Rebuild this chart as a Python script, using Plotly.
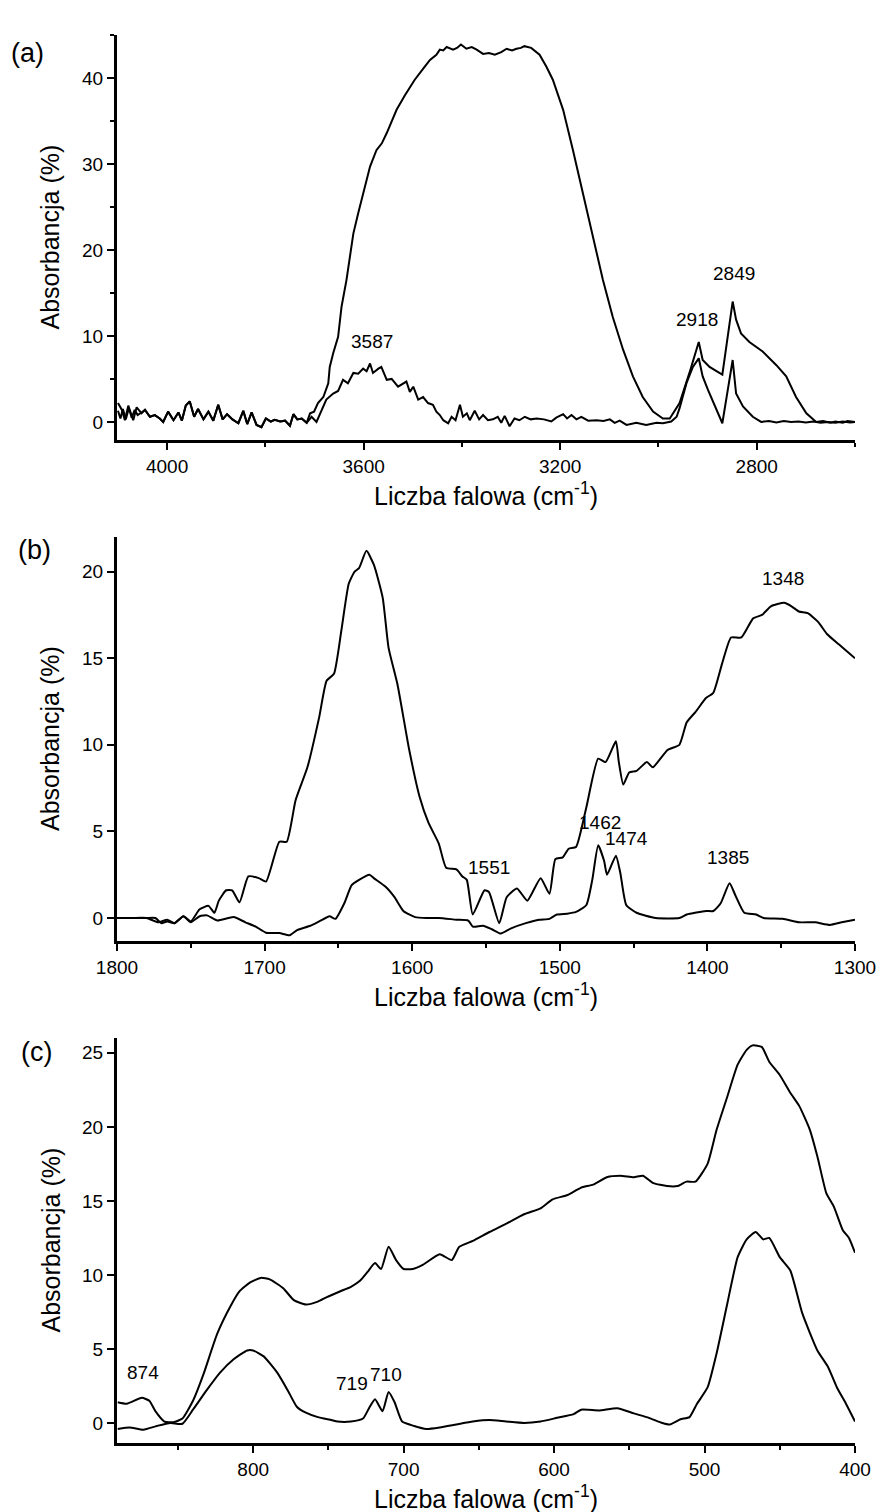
import plotly.graph_objects as go

FONT = "Liberation Sans, Arial, sans-serif"

# ---------------- (a) 4100-2600 cm-1 ----------------
wn_a_upper = [4100, 4092, 4086, 4079, 4069, 4062, 4052, 4045, 4035, 4025, 4015, 4008, 3998, 3987,
              3977, 3970, 3962, 3954, 3945, 3937, 3926, 3916, 3906, 3896, 3887, 3878, 3867, 3855,
              3845, 3837, 3828, 3818, 3808, 3799, 3789, 3781, 3770, 3760, 3750, 3743, 3735, 3726,
              3716, 3709, 3701, 3693, 3682, 3672, 3669, 3662, 3652, 3645, 3635, 3628, 3621, 3611,
              3601, 3587, 3574, 3563, 3553, 3543, 3533, 3516, 3496, 3476, 3465, 3452, 3445, 3438,
              3431, 3418, 3410, 3402, 3391, 3380, 3370, 3357, 3345, 3333, 3320, 3309, 3298, 3289,
              3280, 3273, 3259, 3242, 3228, 3215, 3194, 3174, 3154, 3133, 3113, 3093, 3072, 3052,
              3032, 3011, 2991, 2977, 2957, 2937, 2918, 2910, 2896, 2876, 2870, 2849, 2842, 2832,
              2815, 2788, 2760, 2740, 2720, 2699, 2679, 2665, 2650, 2640, 2625, 2615, 2600]
ab_a_upper = [2.2, 1.4, 0.2, 1.9, 0.2, 1.7, 1.0, 1.4, 0.6, 0.8, 0.4, 0.0, 1.2, 0.2,
              1.1, 0.15, 1.9, 2.4, 0.6, 1.5, 0.3, 1.2, 0.15, 2.0, 0.3, 0.9, 0.3, -0.15,
              1.3, -0.25, 1.1, -0.35, -0.6, 0.4, 0.05, 0.25, 0.05, 0.15, -0.45, 0.9, 0.3, 0.4,
              -0.1, 1.0, 1.2, 2.2, 2.9, 4.5, 6.4, 8.0, 9.9, 13.4, 16.5, 19.2, 21.9, 24.3,
              26.6, 29.7, 31.6, 32.4, 33.6, 35.0, 36.3, 38.0, 39.8, 41.3, 42.1, 42.7, 43.3, 43.2,
              43.6, 43.3, 43.5, 43.9, 43.4, 43.6, 43.3, 42.8, 42.9, 42.7, 43.0, 43.4, 43.2, 43.4,
              43.5, 43.7, 43.5, 42.7, 41.3, 39.8, 36.3, 31.6, 26.6, 21.2, 16.5, 12.2, 8.4, 5.3,
              2.9, 1.2, 0.4, 0.4, 2.2, 5.7, 9.3, 7.2, 6.4, 5.7, 5.5, 14.0, 11.9, 10.3,
              9.3, 8.2, 6.6, 5.3, 2.9, 1.0, 0.0, 0.1, -0.1, 0.05, -0.1, 0.1, 0.0]

wn_a_lower = [4100, 4095, 4090, 4084, 4078, 4072, 4066, 4060, 4052, 4045, 4035, 4025, 4015, 4008,
              3998, 3987, 3977, 3970, 3962, 3954, 3945, 3937, 3926, 3916, 3906, 3896, 3887, 3878,
              3867, 3855, 3845, 3837, 3828, 3818, 3808, 3799, 3789, 3781, 3770, 3760, 3750, 3743,
              3735, 3726, 3716, 3706, 3696, 3686, 3676, 3662, 3652, 3642, 3632, 3621, 3611, 3601,
              3594, 3587, 3581, 3570, 3564, 3553, 3543, 3530, 3513, 3506, 3499, 3489, 3479, 3469,
              3459, 3452, 3445, 3438, 3428, 3421, 3413, 3404, 3398, 3390, 3384, 3374, 3365, 3357,
              3347, 3337, 3327, 3320, 3313, 3303, 3293, 3283, 3272, 3260, 3248, 3233, 3218, 3208,
              3194, 3186, 3177, 3167, 3157, 3143, 3126, 3112, 3099, 3089, 3079, 3065, 3045, 3025,
              3004, 2991, 2974, 2963, 2957, 2943, 2930, 2918, 2910, 2899, 2886, 2870, 2859, 2849,
              2842, 2828, 2808, 2791, 2775, 2760, 2745, 2730, 2715, 2700, 2685, 2670, 2655, 2640,
              2625, 2610, 2600]
ab_a_lower = [1.3, 0.4, 1.5, 0.3, 1.6, 0.5, 1.4, 0.8, 1.1, 1.4, 0.6, 0.8, 0.4, 0.0,
              1.2, 0.2, 1.1, 0.15, 1.9, 2.4, 0.6, 1.5, 0.3, 1.2, 0.15, 2.0, 0.3, 0.9,
              0.3, -0.15, 1.3, -0.25, 1.1, -0.35, -0.6, 0.4, 0.05, 0.25, 0.05, 0.15, -0.45, 0.9,
              0.3, 0.4, -0.1, 0.6, 0.0, 1.4, 2.6, 3.3, 3.6, 4.9, 4.5, 5.7, 5.6, 6.2,
              5.9, 6.8, 5.7, 6.2, 6.4, 4.9, 5.0, 4.1, 4.7, 3.5, 4.1, 2.6, 2.9, 2.2,
              2.0, 1.2, 0.8, 0.2, -0.15, 0.6, 0.2, 2.0, 0.6, 1.0, 0.2, 1.3, 0.3, 0.8,
              0.2, 0.3, 0.6, -0.1, 0.7, -0.5, 0.4, 0.2, 0.6, 0.3, 0.4, 0.3, 0.05, 0.5,
              0.9, 0.4, 0.8, 0.3, 0.6, 0.15, 0.2, 0.1, 0.3, -0.1, 0.15, -0.35, -0.1, -0.35,
              -0.1, -0.15, 0.05, 0.6, 1.6, 4.5, 6.4, 7.4, 5.3, 3.7, 2.0, -0.15, 3.7, 7.2,
              3.3, 1.8, 0.6, 0.0, 0.1, -0.05, 0.1, 0.0, 0.05, -0.05, 0.05, -0.1, 0.0, -0.1,
              0.05, -0.05, 0.0]

# ---------------- (b) 1800-1300 cm-1 ----------------
wn_b_upper = [1800, 1790, 1780, 1774, 1770, 1766, 1761, 1755, 1750, 1744, 1738, 1734, 1731, 1726,
              1722, 1717, 1711, 1704, 1699, 1690, 1685, 1679, 1671, 1663, 1658, 1653, 1648, 1643,
              1639, 1636, 1631, 1626, 1620, 1616, 1610, 1602, 1595, 1589, 1582, 1577, 1570, 1566,
              1563, 1559, 1551, 1548, 1541, 1536, 1529, 1522, 1513, 1507, 1503, 1498, 1494, 1489,
              1482, 1474, 1469, 1462, 1460, 1457, 1453, 1448, 1441, 1437, 1427, 1419, 1414, 1408,
              1401, 1396, 1390, 1384, 1377, 1369, 1363, 1357, 1348, 1343, 1338, 1332, 1325, 1319,
              1311, 1300]
ab_b_upper = [0.0, 0.0, 0.0, 0.0, -0.3, -0.2, -0.3, 0.1, -0.2, 0.5, 0.7, 0.3, 1.0, 1.6,
              1.6, 0.9, 2.4, 2.3, 2.1, 4.4, 4.4, 6.8, 8.7, 11.6, 13.7, 14.1, 16.6, 19.3,
              20.0, 20.2, 21.2, 20.4, 18.5, 15.6, 13.5, 9.7, 7.0, 5.5, 4.3, 2.9, 2.8, 2.4,
              2.2, 0.2, 1.6, 1.5, -0.3, 1.2, 1.7, 1.0, 2.3, 1.4, 3.4, 3.5, 4.0, 4.1,
              6.4, 9.2, 9.0, 10.2, 9.0, 7.7, 8.4, 8.5, 9.0, 8.7, 9.7, 10.0, 11.3, 11.9,
              12.7, 13.0, 14.7, 16.2, 16.2, 17.3, 17.5, 18.0, 18.2, 18.0, 17.7, 17.6, 17.1, 16.4,
              15.8, 15.0]

wn_b_lower = [1800, 1790, 1780, 1772, 1766, 1761, 1755, 1750, 1744, 1739, 1732, 1721, 1713, 1706,
              1699, 1690, 1683, 1678, 1669, 1663, 1656, 1652, 1646, 1641, 1636, 1629, 1626, 1618,
              1612, 1606, 1598, 1590, 1582, 1570, 1562, 1559, 1552, 1546, 1540, 1533, 1523, 1514,
              1507, 1502, 1495, 1489, 1482, 1478, 1474, 1470, 1468, 1462, 1459, 1455, 1448, 1435,
              1419, 1414, 1401, 1396, 1391, 1385, 1381, 1375, 1367, 1362, 1349, 1338, 1327, 1317,
              1309, 1300]
ab_b_lower = [0.0, 0.0, 0.0, -0.25, -0.1, -0.3, 0.1, -0.25, 0.1, 0.15, -0.15, 0.05, -0.25, -0.5,
              -0.85, -0.87, -1.0, -0.7, -0.45, -0.2, 0.1, -0.05, 0.85, 1.9, 2.2, 2.5, 2.3, 1.8,
              1.2, 0.4, 0.05, 0.0, 0.0, -0.1, -0.15, -0.5, -0.45, -0.65, -0.9, -0.6, -0.3, -0.1,
              -0.05, 0.2, 0.25, 0.35, 0.75, 2.2, 4.2, 3.3, 2.5, 3.6, 2.6, 0.75, 0.3, 0.0,
              0.0, 0.2, 0.4, 0.4, 0.85, 2.0, 1.3, 0.3, 0.2, 0.0, -0.05, -0.25, -0.25, -0.4,
              -0.25, -0.1]

# ---------------- (c) 890-400 cm-1 ----------------
wn_c_upper = [890, 884, 874, 869, 865, 859, 853, 847, 840, 833, 824, 815, 809, 802,
              795, 789, 780, 773, 765, 757, 751, 742, 735, 729, 724, 719, 715, 710,
              705, 700, 694, 687, 676, 668, 663, 654, 643, 631, 620, 609, 601, 591,
              582, 574, 565, 556, 547, 541, 534, 525, 518, 512, 506, 498, 492, 485,
              478, 472, 468, 462, 457, 450, 443, 437, 430, 425, 419, 414, 408, 404, 400]
ab_c_upper = [1.4, 1.3, 1.7, 1.5, 0.8, 0.1, 0.05, 0.3, 1.5, 3.3, 6.0, 7.9, 8.9, 9.5,
              9.8, 9.7, 9.1, 8.3, 8.0, 8.2, 8.5, 8.9, 9.2, 9.6, 10.2, 10.8, 10.4, 11.9,
              11.0, 10.4, 10.4, 10.7, 11.4, 11.0, 11.9, 12.3, 12.9, 13.5, 14.1, 14.5, 15.1, 15.4,
              15.9, 16.1, 16.6, 16.7, 16.6, 16.7, 16.2, 16.0, 16.0, 16.3, 16.3, 17.5, 19.8, 22.0,
              24.2, 25.2, 25.5, 25.4, 24.4, 23.5, 22.3, 21.4, 19.8, 18.0, 15.5, 14.6, 13.0, 12.5, 11.5]

wn_c_lower = [890, 882, 873, 864, 855, 847, 840, 831, 822, 813, 804, 800, 793, 784,
              777, 771, 765, 757, 748, 744, 735, 727, 723, 719, 714, 710, 706, 701,
              693, 685, 676, 665, 654, 643, 632, 620, 609, 598, 587, 582, 570, 558,
              547, 537, 528, 523, 516, 510, 505, 498, 492, 485, 478, 472, 466, 461,
              457, 450, 443, 435, 425, 418, 412, 406, 400]
ab_c_lower = [-0.4, -0.3, -0.45, -0.2, 0.0, -0.05, 0.9, 2.2, 3.4, 4.3, 4.9, 4.9, 4.5, 3.4,
              2.2, 1.1, 0.7, 0.4, 0.2, 0.1, 0.1, 0.3, 1.0, 1.6, 0.8, 2.1, 1.4, 0.1,
              -0.2, -0.4, -0.3, -0.1, 0.1, 0.2, 0.1, 0.0, 0.1, 0.35, 0.6, 0.9, 0.85, 1.0,
              0.65, 0.35, 0.0, -0.1, 0.25, 0.4, 1.3, 2.4, 4.7, 8.0, 11.2, 12.4, 12.9, 12.4,
              12.5, 11.2, 10.3, 7.4, 4.9, 3.8, 2.4, 1.3, 0.1]

# peak labels: (text, wavenumber position, absorbance position)
peaks_a = [("3402", 3404, 46.4), ("3273", 3268, 46.4), ("3587", 3583, 9.3),
           ("2918", 2922, 11.9), ("2849", 2847, 17.3)]
peaks_b = [("1551", 1548, 2.9), ("1462", 1473, 5.5), ("1474", 1455, 4.6),
           ("1385", 1386, 3.5), ("1348", 1349, 19.6)]
peaks_c = [("874", 873, 3.4), ("719", 734, 2.7), ("710", 712, 3.3)]

W, H = 880, 1512
X0, X1 = 117, 855
panels = [  # (top px, bottom px)
    (35, 440),
    (537, 941),
    (1038, 1443),
]

fig = go.Figure()
line = dict(color="black", width=2)
series = [
    (wn_a_upper, ab_a_upper, 1, "linear"), (wn_a_lower, ab_a_lower, 1, "linear"),
    (wn_b_upper, ab_b_upper, 2, "spline"), (wn_b_lower, ab_b_lower, 2, "spline"),
    (wn_c_upper, ab_c_upper, 3, "spline"), (wn_c_lower, ab_c_lower, 3, "spline"),
]
for xs, ys, k, shape in series:
    sfx = "" if k == 1 else str(k)
    fig.add_trace(go.Scatter(x=xs, y=ys, mode="lines", xaxis="x" + sfx, yaxis="y" + sfx,
                             line=dict(line, shape=shape, smoothing=0.5), showlegend=False,
                             hoverinfo="skip"))


def axis_style():
    return dict(showline=True, linecolor="black", linewidth=3, mirror=False,
                ticks="outside", ticklen=7, tickwidth=2, tickcolor="black",
                showgrid=False, zeroline=False, automargin=False,
                tickfont=dict(family=FONT, size=19, color="black"))


xranges = [[4102, 2600], [1800, 1300], [890.5, 400]]
xdticks = [(400, 200), (100, 50), (100, 50)]
yranges = [[-2.1, 45], [-1.33, 22], [-1.35, 26]]
ydticks = [(10, 5), (5, None), (5, None)]

layout = dict(width=W, height=H, margin=dict(l=0, r=0, t=0, b=0, autoexpand=False),
              template="none",
              paper_bgcolor="white", plot_bgcolor="white", showlegend=False)
for i, (top, bot) in enumerate(panels):
    sfx = "" if i == 0 else str(i + 1)
    dom_y = [1 - bot / H, 1 - top / H]
    xa = axis_style()
    xa.update(domain=[X0 / W, X1 / W], range=xranges[i], anchor="y" + sfx,
              dtick=xdticks[i][0], tick0=0,
              minor=dict(dtick=xdticks[i][1], ticks="outside", ticklen=4, tickwidth=2,
                         tickcolor="black", tick0=0))
    ya = axis_style()
    ya.update(domain=dom_y, range=yranges[i], anchor="x" + sfx, dtick=ydticks[i][0], tick0=0)
    if ydticks[i][1]:
        ya["minor"] = dict(dtick=ydticks[i][1], ticks="outside", ticklen=4, tickwidth=2,
                           tickcolor="black", tick0=0)
    layout["xaxis" + sfx] = xa
    layout["yaxis" + sfx] = ya
fig.update_layout(**layout)

ann = []
for i, (top, bot) in enumerate(panels):
    # axis titles
    ann.append(dict(text="Liczba falowa (cm<sup>-1</sup>)", xref="paper", yref="paper",
                    x=(X0 + X1) / 2 / W, y=1 - (bot + 54) / H, showarrow=False,
                    xanchor="center", yanchor="middle",
                    font=dict(family=FONT, size=25, color="black")))
    ann.append(dict(text="Absorbancja (%)", xref="paper", yref="paper", textangle=-90,
                    x=50 / W, y=1 - (top + bot) / 2 / H, showarrow=False,
                    xanchor="center", yanchor="middle",
                    font=dict(family=FONT, size=25, color="black")))
# panel letters
for txt, px, py in [("(a)", 28, 53), ("(b)", 34, 550), ("(c)", 36, 1052)]:
    ann.append(dict(text=txt, xref="paper", yref="paper", x=px / W, y=1 - py / H,
                    showarrow=False, xanchor="center", yanchor="middle",
                    font=dict(family=FONT, size=27, color="black")))
for k, plist in enumerate([peaks_a, peaks_b, peaks_c]):
    sfx = "" if k == 0 else str(k + 1)
    for txt, wx, vy in plist:
        ann.append(dict(text=txt, xref="x" + sfx, yref="y" + sfx, x=wx, y=vy,
                        showarrow=False, xanchor="center", yanchor="middle",
                        font=dict(family=FONT, size=19, color="black")))
fig.update_layout(annotations=ann)

fig.write_html("out.html")
